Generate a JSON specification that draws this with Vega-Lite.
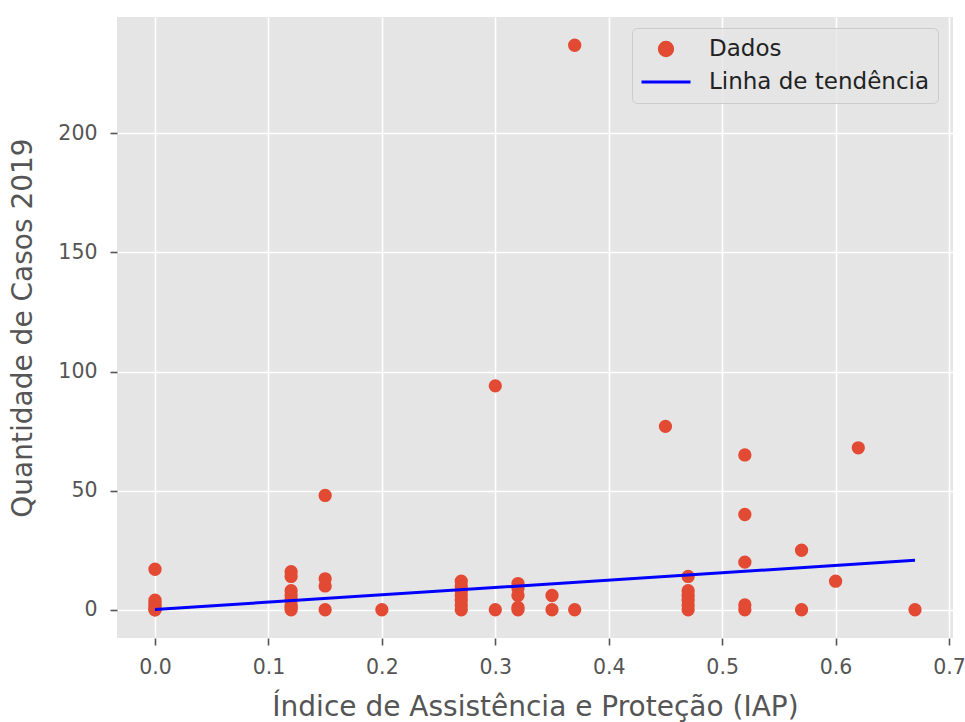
{
  "$schema": "https://vega.github.io/schema/vega-lite/v6.json",
  "width": 836,
  "height": 621,
  "autosize": "none",
  "padding": {"left": 117, "top": 17, "right": 12, "bottom": 84},
  "background": "white",
  "config": {
    "font": "DejaVu Sans",
    "view": {"fill": "#E5E5E5", "stroke": null},
    "axis": {
      "grid": true,
      "gridColor": "white",
      "gridWidth": 1.6,
      "domain": false,
      "tickColor": "#555555",
      "tickSize": 7,
      "tickWidth": 1.6,
      "labelColor": "#555555",
      "labelFontSize": 20.5,
      "labelFont": "DejaVu Sans",
      "titleColor": "#555555",
      "titleFontSize": 28,
      "titleFont": "DejaVu Sans",
      "titleFontWeight": "normal"
    }
  },
  "datasets": {
    "pontos": [
      {"iap": 0.0, "casos": 17, "serie": "Dados"},
      {"iap": 0.0, "casos": 4, "serie": "Dados"},
      {"iap": 0.0, "casos": 3, "serie": "Dados"},
      {"iap": 0.0, "casos": 2, "serie": "Dados"},
      {"iap": 0.0, "casos": 1, "serie": "Dados"},
      {"iap": 0.0, "casos": 0, "serie": "Dados"},
      {"iap": 0.0, "casos": 0, "serie": "Dados"},
      {"iap": 0.12, "casos": 16, "serie": "Dados"},
      {"iap": 0.12, "casos": 14, "serie": "Dados"},
      {"iap": 0.12, "casos": 8, "serie": "Dados"},
      {"iap": 0.12, "casos": 6, "serie": "Dados"},
      {"iap": 0.12, "casos": 4, "serie": "Dados"},
      {"iap": 0.12, "casos": 2, "serie": "Dados"},
      {"iap": 0.12, "casos": 1, "serie": "Dados"},
      {"iap": 0.12, "casos": 0, "serie": "Dados"},
      {"iap": 0.15, "casos": 48, "serie": "Dados"},
      {"iap": 0.15, "casos": 13, "serie": "Dados"},
      {"iap": 0.15, "casos": 10, "serie": "Dados"},
      {"iap": 0.15, "casos": 0, "serie": "Dados"},
      {"iap": 0.2, "casos": 0, "serie": "Dados"},
      {"iap": 0.27, "casos": 12, "serie": "Dados"},
      {"iap": 0.27, "casos": 10, "serie": "Dados"},
      {"iap": 0.27, "casos": 8, "serie": "Dados"},
      {"iap": 0.27, "casos": 6, "serie": "Dados"},
      {"iap": 0.27, "casos": 4, "serie": "Dados"},
      {"iap": 0.27, "casos": 2, "serie": "Dados"},
      {"iap": 0.27, "casos": 0, "serie": "Dados"},
      {"iap": 0.3, "casos": 94, "serie": "Dados"},
      {"iap": 0.3, "casos": 0, "serie": "Dados"},
      {"iap": 0.32, "casos": 11, "serie": "Dados"},
      {"iap": 0.32, "casos": 9, "serie": "Dados"},
      {"iap": 0.32, "casos": 6, "serie": "Dados"},
      {"iap": 0.32, "casos": 1, "serie": "Dados"},
      {"iap": 0.32, "casos": 0, "serie": "Dados"},
      {"iap": 0.35, "casos": 6, "serie": "Dados"},
      {"iap": 0.35, "casos": 0, "serie": "Dados"},
      {"iap": 0.37, "casos": 237, "serie": "Dados"},
      {"iap": 0.37, "casos": 0, "serie": "Dados"},
      {"iap": 0.45, "casos": 77, "serie": "Dados"},
      {"iap": 0.47, "casos": 14, "serie": "Dados"},
      {"iap": 0.47, "casos": 8, "serie": "Dados"},
      {"iap": 0.47, "casos": 6, "serie": "Dados"},
      {"iap": 0.47, "casos": 4, "serie": "Dados"},
      {"iap": 0.47, "casos": 2, "serie": "Dados"},
      {"iap": 0.47, "casos": 0, "serie": "Dados"},
      {"iap": 0.52, "casos": 65, "serie": "Dados"},
      {"iap": 0.52, "casos": 40, "serie": "Dados"},
      {"iap": 0.52, "casos": 20, "serie": "Dados"},
      {"iap": 0.52, "casos": 2, "serie": "Dados"},
      {"iap": 0.52, "casos": 0, "serie": "Dados"},
      {"iap": 0.57, "casos": 25, "serie": "Dados"},
      {"iap": 0.57, "casos": 0, "serie": "Dados"},
      {"iap": 0.6, "casos": 12, "serie": "Dados"},
      {"iap": 0.62, "casos": 68, "serie": "Dados"},
      {"iap": 0.67, "casos": 0, "serie": "Dados"}
    ],
    "tendencia": [
      {"iap": 0.0, "casos": 0.1, "serie": "Linha de tendência"},
      {"iap": 0.67, "casos": 20.8, "serie": "Linha de tendência"}
    ]
  },
  "encoding": {
    "x": {
      "field": "iap",
      "type": "quantitative",
      "title": "Índice de Assistência e Proteção (IAP)",
      "scale": {"domain": [-0.0335, 0.7035], "nice": false, "zero": false},
      "axis": {"values": [0, 0.1, 0.2, 0.3, 0.4, 0.5, 0.6, 0.7], "format": ".1f", "labelPadding": 12, "titlePadding": 16}
    },
    "y": {
      "field": "casos",
      "type": "quantitative",
      "title": "Quantidade de Casos 2019",
      "scale": {"domain": [-11.85, 248.85], "nice": false, "zero": false},
      "axis": {"values": [0, 50, 100, 150, 200], "labelPadding": 13, "titlePadding": 20}
    }
  },
  "layer": [
    {
      "data": {"name": "pontos"},
      "mark": {"type": "point", "filled": true, "opacity": 1, "size": 177},
      "encoding": {
        "color": {
          "field": "serie",
          "type": "nominal",
          "scale": {"domain": ["Dados", "Linha de tendência"], "range": ["#E24A33", "#0000FF"]},
          "legend": {
            "title": null,
            "orient": "none",
            "legendX": 515,
            "legendY": 11,
            "fillColor": "rgba(229,229,229,0.8)",
            "strokeColor": "#cccccc",
            "cornerRadius": 5,
            "padding": 8,
            "rowPadding": 7,
            "clipHeight": 26,
            "labelFontSize": 23,
            "labelFont": "DejaVu Sans",
            "labelColor": "#222222",
            "labelLimit": 0,
            "labelOffset": 17,
            "symbolOpacity": 1,
            "symbolStrokeWidth": 3,
            "encoding": {
              "symbols": {
                "shape": {"value": {"expr": "datum.value == 'Dados' ? 'circle' : 'stroke'"}},
                "size": {"value": {"expr": "datum.value == 'Dados' ? 177 : 2401"}},
                "stroke": {"value": {"expr": "datum.value == 'Dados' ? 'transparent' : '#0000FF'"}},
                "fill": {"value": {"expr": "datum.value == 'Dados' ? '#E24A33' : 'transparent'"}},
                "strokeWidth": {"value": 3}
              }
            }
          }
        }
      }
    },
    {
      "data": {"name": "tendencia"},
      "mark": {"type": "line", "strokeWidth": 3},
      "encoding": {
        "color": {"field": "serie", "type": "nominal"}
      }
    }
  ]
}
